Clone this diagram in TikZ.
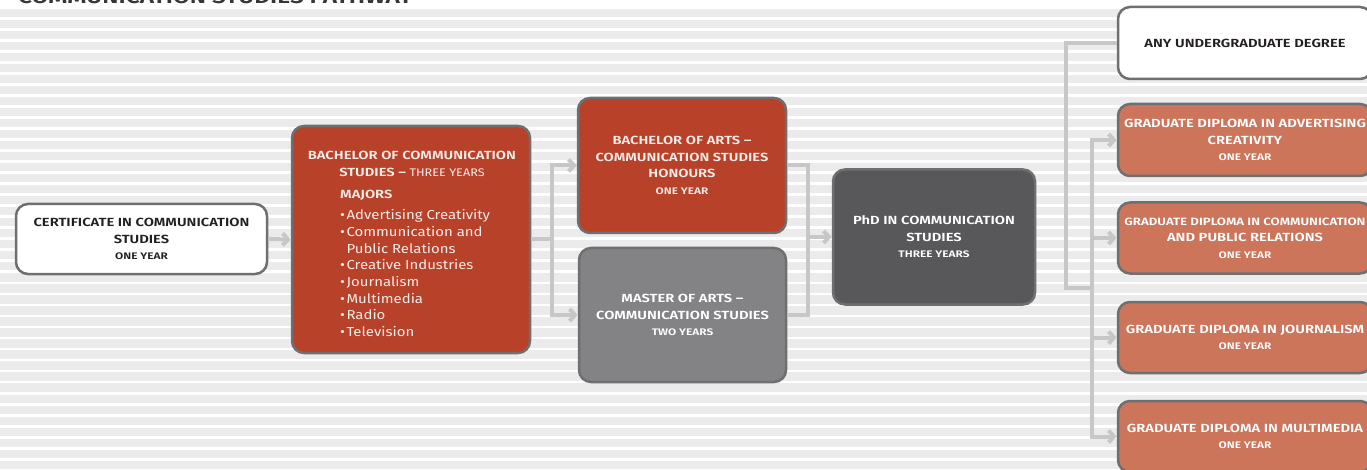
\documentclass[tikz,border=0pt]{standalone}
\usepackage{fontspec}
\setmainfont{Fira Sans}
\newfontfamily\labfont{Fira Sans SemiBold}[FakeStretch=1.25]
\newfontfamily\regfont{Fira Sans}[FakeStretch=1.15]
\usetikzlibrary{arrows.meta}
\definecolor{redbox}{HTML}{B8412A}
\definecolor{orbox}{HTML}{CC755A}
\definecolor{mabox}{HTML}{838385}
\definecolor{phdbox}{HTML}{58585B}
\definecolor{bordergray}{HTML}{6E6F71}
\definecolor{conncol}{HTML}{C7C7C7}
\definecolor{stripe}{HTML}{EBEBEB}
\definecolor{ink}{HTML}{231F20}
\definecolor{lighttxt}{HTML}{F7ECE8}
\newcommand\smallline[1]{{\fontsize{9.5}{16.5}\selectfont #1}}
\begin{document}
\begin{tikzpicture}[x=1pt,y=-1pt,
  box/.style={draw=bordergray, line width=2.5pt, rounded corners=12pt, inner sep=0pt,
    align=center, font=\labfont\fontsize{11.8}{16.5}\selectfont},
  whitebox/.style={box, fill=white, text=ink},
  redbx/.style={box, fill=redbox, text=lighttxt},
  orbx/.style={box, fill=orbox, text=white},
  link/.style={draw=conncol, line width=4pt},
  linkarrow/.style={link, -{Straight Barb[length=5.5pt,width=12pt]}}]
\useasboundingbox (0,0) rectangle (1367,470);
\clip (0,0) rectangle (1367,470);
% background stripes
\fill[white] (0,0) rectangle (1367,470);
\fill[stripe] (0,6) rectangle (1367,470);
\foreach \i in {0,...,42} {
  \fill[white] (0,{6+11.02*\i}) rectangle (1367,{8.8+11.02*\i});
}
% title
\node[anchor=base west, inner sep=0pt, text=ink!90, font=\labfont\fontsize{19.5}{19.5}\selectfont] (title) at (18,3.5) {COMMUNICATION STUDIES PATHWAY};
% boxes
\node[whitebox, minimum width=251pt, minimum height=70pt] (cert) at (141.5,239)
  {CERTIFICATE IN COMMUNICATION\\STUDIES\\\smallline{ONE YEAR}};
\node[redbx, minimum width=238pt, minimum height=227pt] (bcs) at (411,239.5) {};
\node[inner sep=0pt, align=center, text=lighttxt, font=\labfont\fontsize{11.8}{17}\selectfont] (bcstitle) at (412,164)
  {BACHELOR OF COMMUNICATION\\STUDIES – {\regfont\fontsize{11}{17}\selectfont THREE YEARS}};
\node[inner sep=0pt, align=left, anchor=north west, text=lighttxt, font=\regfont\fontsize{13}{16.7}\selectfont] (majors) at (340,189.5)
  {{\labfont\fontsize{11.8}{16.7}\selectfont MAJORS}\\[5pt]
   \textbullet\hspace{1.5pt}Advertising Creativity\\
   \textbullet\hspace{1.5pt}Communication and\\
   \phantom{\textbullet\hspace{1.5pt}}Public Relations\\
   \textbullet\hspace{1.5pt}Creative Industries\\
   \textbullet\hspace{1.5pt}Journalism\\
   \textbullet\hspace{1.5pt}Multimedia\\
   \textbullet\hspace{1.5pt}Radio\\
   \textbullet\hspace{1.5pt}Television};
\node[redbx, minimum width=208pt, minimum height=135pt] (bah) at (682,165.5)
  {BACHELOR OF ARTS –\\COMMUNICATION STUDIES\\HONOURS\\\smallline{ONE YEAR}};
\node[box, fill=mabox, text=white, minimum width=207pt, minimum height=134pt] (ma) at (682.5,315)
  {MASTER OF ARTS –\\COMMUNICATION STUDIES\\\smallline{TWO YEARS}};
\node[box, fill=phdbox, text=white, minimum width=202pt, minimum height=135pt] (phd) at (934,237)
  {PhD IN COMMUNICATION\\STUDIES\\\smallline{THREE YEARS}};
\node[whitebox, minimum width=254pt, minimum height=72pt] (any) at (1245,43)
  {ANY UNDERGRADUATE DEGREE};
\node[orbx, minimum width=254pt, minimum height=72pt] (gd1) at (1245,140)
  {GRADUATE DIPLOMA IN ADVERTISING\\CREATIVITY\\\smallline{ONE YEAR}};
\node[orbx, minimum width=254pt, minimum height=71pt] (gd2) at (1245,238)
  {{\fontsize{10.6}{16.5}\selectfont GRADUATE DIPLOMA IN COMMUNICATION}\\AND PUBLIC RELATIONS\\\smallline{ONE YEAR}};
\node[orbx, minimum width=254pt, minimum height=71pt] (gd3) at (1245,337.5)
  {GRADUATE DIPLOMA IN JOURNALISM\\\smallline{ONE YEAR}};
\node[orbx, minimum width=254pt, minimum height=71pt] (gd4) at (1245,436.5)
  {GRADUATE DIPLOMA IN MULTIMEDIA\\\smallline{ONE YEAR}};
% connectors
\draw[linkarrow] (cert.east) -- (bcs.west);
\coordinate (b1) at (552,239.5);
\draw[link] (bcs.east) -- (b1);
\draw[linkarrow] (b1) |- (bah.west);
\draw[linkarrow] (b1) |- (ma.west);
\coordinate (p1) at (808,237);
\draw[link] (bah.east) -| (p1);
\draw[link] (ma.east) -| (p1);
\draw[linkarrow] (p1) -- (phd.west);
\coordinate (k0) at (1066,288);
\coordinate (k1) at (1092,288);
\draw[link] (any.west) -| (k0) -- (k1);
\draw[linkarrow] (k1) |- (gd1.west);
\draw[linkarrow] (k1) |- (gd2.west);
\draw[linkarrow] (k1) |- (gd3.west);
\draw[linkarrow] (k1) |- (gd4.west);
\end{tikzpicture}
\end{document}
